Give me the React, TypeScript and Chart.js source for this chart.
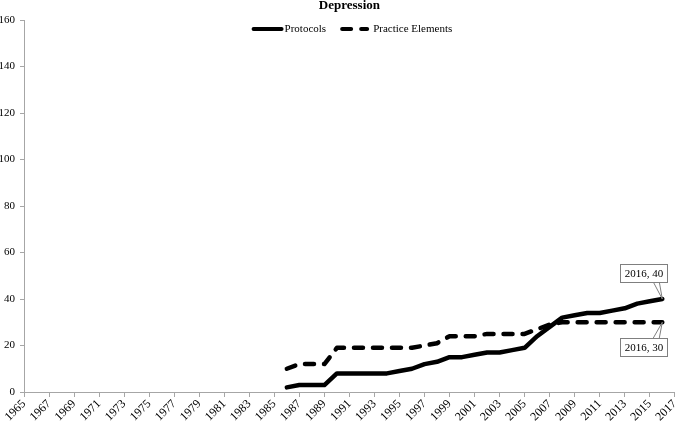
import React, { useEffect, useRef } from 'react';
import { Chart, registerables } from 'chart.js';

Chart.register(...registerables);

const titleText = 'Depression';
const seriesNames = ['Protocols', 'Practice Elements'];

const years = [
  '1965', '1966', '1967', '1968', '1969', '1970', '1971', '1972', '1973', '1974',
  '1975', '1976', '1977', '1978', '1979', '1980', '1981', '1982', '1983', '1984',
  '1985', '1986', '1987', '1988', '1989', '1990', '1991', '1992', '1993', '1994',
  '1995', '1996', '1997', '1998', '1999', '2000', '2001', '2002', '2003', '2004',
  '2005', '2006', '2007', '2008', '2009', '2010', '2011', '2012', '2013', '2014',
  '2015', '2016', '2017',
];

const xTickLabels = [
  '1965', '1967', '1969', '1971', '1973', '1975', '1977', '1979', '1981', '1983',
  '1985', '1987', '1989', '1991', '1993', '1995', '1997', '1999', '2001', '2003',
  '2005', '2007', '2009', '2011', '2013', '2015', '2017',
];

const dataYears = [
  '1986', '1987', '1988', '1989', '1990', '1991', '1992', '1993', '1994', '1995',
  '1996', '1997', '1998', '1999', '2000', '2001', '2002', '2003', '2004', '2005',
  '2006', '2007', '2008', '2009', '2010', '2011', '2012', '2013', '2014', '2015',
  '2016',
];

const protocols = [
  2, 3, 3, 3, 8, 8, 8, 8, 8, 9,
  10, 12, 13, 15, 15, 16, 17, 17, 18, 19,
  24, 28, 32, 33, 34, 34, 35, 36, 38, 39,
  40,
];

const practiceElements = [
  10, 12, 12, 12, 19, 19, 19, 19, 19, 19,
  19, 20, 21, 24, 24, 24, 25, 25, 25, 25,
  27, 29, 30, 30, 30, 30, 30, 30, 30, 30,
  30,
];

const yMin = 0;
const yMax = 160;
const yStep = 20;

const FONT = "'Liberation Serif', 'Times New Roman', serif";
const AXIS_GRAY = '#a6a6a6';

export default function App() {
  const ref = useRef<HTMLCanvasElement | null>(null);

  useEffect(() => {
    if (!ref.current) return;

    const legendPlugin = {
      id: 'customLegend',
      afterDraw(chart: any) {
        const ctx = chart.ctx as CanvasRenderingContext2D;
        const ca = chart.chartArea;
        ctx.save();
        ctx.font = `11px ${FONT}`;
        const w1 = ctx.measureText(seriesNames[0]).width;
        const w2 = ctx.measureText(seriesNames[1]).width;
        const s1 = 32;
        const s2 = 29;
        const total = s1 + 1 + w1 + 14 + s2 + 4 + w2;
        const cx = (ca.left + ca.right) / 2 + 2.5;
        const x0 = cx - total / 2;
        const y = ca.top + 9;
        ctx.strokeStyle = '#000';
        ctx.lineWidth = 4;
        ctx.lineCap = 'round';
        ctx.beginPath();
        ctx.moveTo(x0 + 2, y);
        ctx.lineTo(x0 + s1 - 2, y);
        ctx.stroke();
        ctx.fillStyle = '#000';
        ctx.textBaseline = 'middle';
        ctx.textAlign = 'left';
        ctx.fillText(seriesNames[0], x0 + s1 + 1, y);
        const x1 = x0 + s1 + 1 + w1 + 14;
        ctx.setLineDash([9, 10]);
        ctx.beginPath();
        ctx.moveTo(x1 + 2, y);
        ctx.lineTo(x1 + s2 - 2, y);
        ctx.stroke();
        ctx.setLineDash([]);
        ctx.fillText(seriesNames[1], x1 + s2 + 4, y);
        ctx.restore();
      },
    };

    const calloutPlugin = {
      id: 'callouts',
      afterDatasetsDraw(chart: any) {
        const ctx = chart.ctx as CanvasRenderingContext2D;
        ctx.save();
        ctx.font = `11px ${FONT}`;
        chart.data.datasets.forEach((ds: any, i: number) => {
          const meta = chart.getDatasetMeta(i);
          const n = meta.data.length;
          const pt = meta.data[n - 1];
          const raw = ds.data[n - 1];
          const label = `${raw.x}, ${raw.y}`;
          const px = pt.x;
          const py = pt.y;
          const tw = ctx.measureText(label).width;
          const bw = Math.round(tw + 8);
          const bh = 18;
          const right = Math.round(px + 5);
          const left = right - bw;
          let top: number;
          let edge: number;
          if (i === 0) {
            top = Math.round(py - 17 - bh);
            edge = top + bh;
          } else {
            top = Math.round(py + 16);
            edge = top;
          }
          ctx.strokeStyle = '#7f7f7f';
          ctx.lineWidth = 1;
          ctx.beginPath();
          ctx.moveTo(px - 9, edge);
          ctx.lineTo(px, py);
          ctx.lineTo(px - 3, edge);
          ctx.stroke();
          ctx.fillStyle = '#fff';
          ctx.fillRect(left + 0.5, top + 0.5, bw, bh);
          ctx.strokeRect(left + 0.5, top + 0.5, bw, bh);
          ctx.fillStyle = '#000';
          ctx.textAlign = 'center';
          ctx.textBaseline = 'middle';
          ctx.fillText(label, left + 0.5 + bw / 2, top + 0.5 + bh / 2 + 0.5);
        });
        ctx.restore();
      },
    };

    const chart = new Chart(ref.current, {
      type: 'line',
      data: {
        labels: years,
        datasets: [
          {
            label: seriesNames[0],
            data: dataYears.map((yr, i) => ({ x: yr, y: protocols[i] })),
            borderColor: '#000',
            backgroundColor: '#000',
            borderWidth: 4.5,
            pointRadius: 0,
            tension: 0,
            borderJoinStyle: 'round',
            borderCapStyle: 'round',
            fill: false,
          },
          {
            label: seriesNames[1],
            data: dataYears.map((yr, i) => ({ x: yr, y: practiceElements[i] })),
            borderColor: '#000',
            backgroundColor: '#000',
            borderWidth: 4.5,
            borderDash: [9, 10],
            pointRadius: 0,
            tension: 0,
            borderJoinStyle: 'round',
            borderCapStyle: 'round',
            fill: false,
          },
        ],
      },
      options: {
        animation: false,
        responsive: false,
        devicePixelRatio: 1,
        layout: { padding: { top: 0, right: 2, left: 0, bottom: 0 } },
        plugins: {
          legend: { display: false },
          tooltip: { enabled: false },
          title: {
            display: true,
            text: titleText,
            fullSize: false,
            color: '#000',
            font: { family: FONT, size: 13, weight: 'bold' },
            padding: { top: -2, bottom: 6.4 },
          },
        },
        scales: {
          x: {
            type: 'category',
            offset: false,
            grid: {
              display: true,
              drawOnChartArea: false,
              drawTicks: true,
              tickLength: 5,
              color: AXIS_GRAY,
            },
            border: { display: true, color: AXIS_GRAY },
            ticks: {
              autoSkip: false,
              maxRotation: 45,
              minRotation: 45,
              padding: 0,
              color: '#000',
              font: { family: FONT, size: 12 },
              callback: (_v: any, idx: number) =>
                xTickLabels.includes(years[idx]) ? years[idx] : null,
            },
            afterFit: (scale: any) => {
              scale.height = 29;
            },
          },
          y: {
            min: yMin,
            max: yMax,
            grid: {
              display: true,
              drawOnChartArea: false,
              drawTicks: true,
              tickLength: 4,
              color: AXIS_GRAY,
            },
            border: { display: true, color: AXIS_GRAY },
            ticks: {
              stepSize: yStep,
              padding: 5,
              color: '#000',
              font: { family: FONT, size: 11 },
            },
            afterFit: (scale: any) => {
              scale.width = 24;
            },
          },
        },
      },
      plugins: [legendPlugin, calloutPlugin],
    } as any);

    return () => chart.destroy();
  }, []);

  return (
    <div style={{ position: 'absolute', left: 0, top: 0, width: 685, height: 421, background: '#fff' }}>
      <canvas ref={ref} width={685} height={421} />
    </div>
  );
}
